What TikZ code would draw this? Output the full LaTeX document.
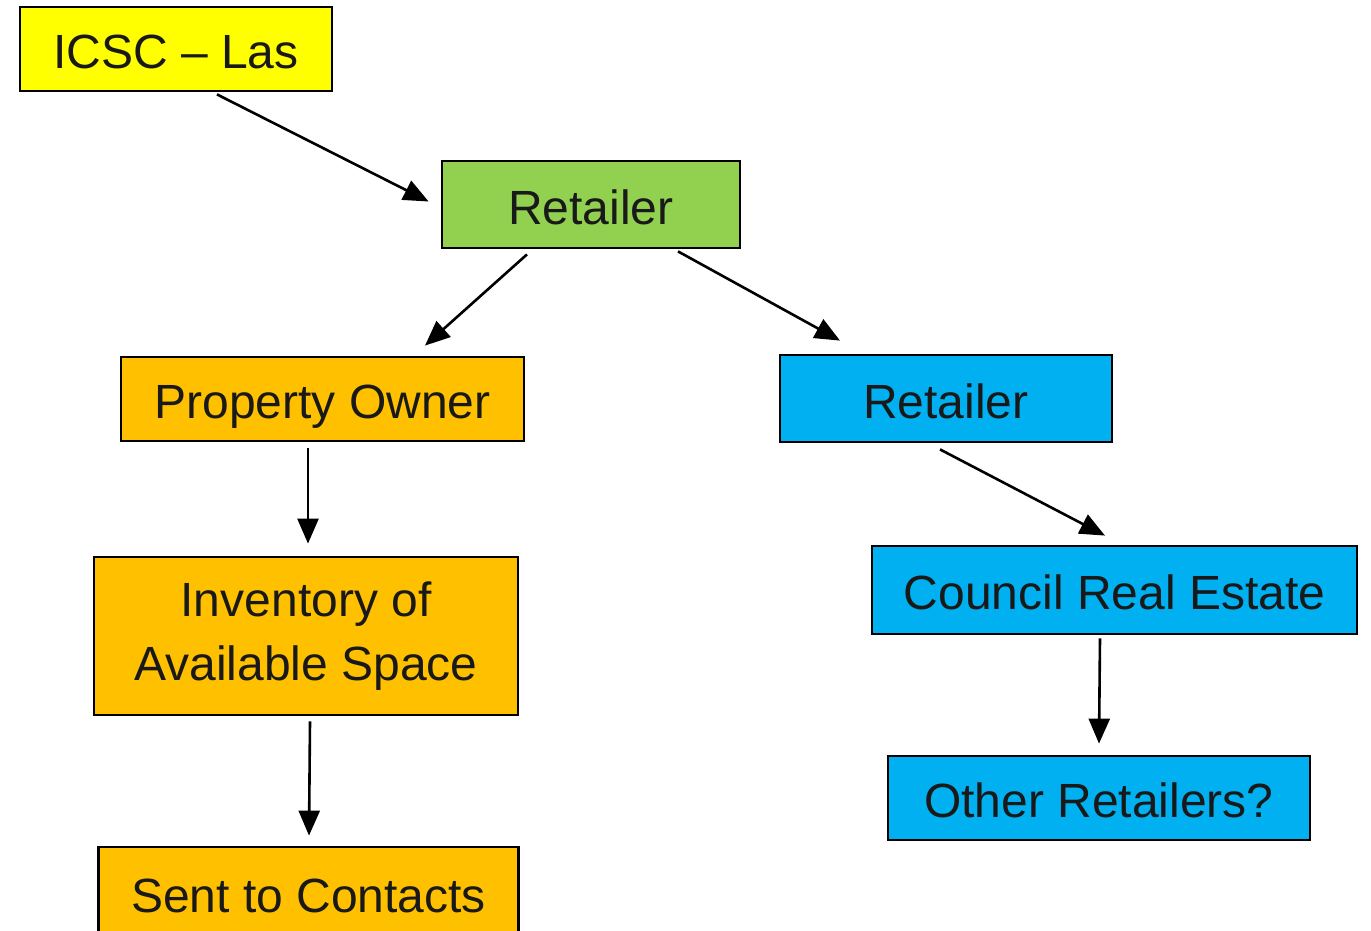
\documentclass[tikz,border=0pt]{standalone}
\usepackage{fontspec}
\setmainfont{Liberation Sans}
\usetikzlibrary{arrows.meta}
\definecolor{cyel}{HTML}{FFFF00}
\definecolor{cgrn}{HTML}{92D050}
\definecolor{corg}{HTML}{FFC000}
\definecolor{cblu}{HTML}{00B0F0}
\tikzset{
  box/.style={draw=black, line width=1.4pt, inner sep=0pt, align=center,
    font=\fontsize{24}{30}\selectfont, text=black!90},
  one/.style={text height=20.6pt, text depth=1pt},
  arr/.style={line width=1.3pt, -{Triangle[length=12.5pt,width=10.5pt]}}
}
\begin{document}
\begin{tikzpicture}[x=0.5pt,y=-0.5pt]
\clip (0,0) rectangle (1371,931);
\fill[white] (0,0) rectangle (1371,931);
\node[box, one, fill=cyel, minimum width=156pt, minimum height=42pt] (icsc) at (176,49) {ICSC -- Las};
\node[box, one, fill=cgrn, minimum width=149pt, minimum height=43.5pt] (ret1) at (591,204.5) {Retailer};
\node[box, one, fill=corg, minimum width=201.5pt, minimum height=42pt] (prop) at (322.5,399) {Property Owner};
\node[box, one, fill=cblu, minimum width=166pt, minimum height=43.5pt] (ret2) at (946,398.5) {Retailer};
\node[box, fill=corg, minimum width=212pt, minimum height=79pt] (inv) at (306,636) {Inventory of\\[2pt]Available Space};
\node[box, one, fill=cblu, minimum width=242.5pt, minimum height=44pt] (coun) at (1114.5,590) {Council Real Estate};
\node[box, one, fill=cblu, minimum width=211pt, minimum height=42pt] (oth) at (1099,798) {Other Retailers?};
\node[box, one, fill=corg, minimum width=210pt, minimum height=46pt] (sent) at (308.5,893) {Sent to Contacts};
\draw[arr] ([shift={(41,2)}]icsc.south) -- ([shift={(-12,-3)}]ret1.west);
\draw[arr] ([shift={(-64,5)}]ret1.south) -- ([shift={(102.5,-10)}]prop.north);
\draw[arr] ([shift={(87,2)}]ret1.south) -- ([shift={(-106,-13)}]ret2.north);
\draw[arr] ([shift={(-14.5,6)}]prop.south) -- ([shift={(2,-12)}]inv.north);
\draw[arr] ([shift={(4,5)}]inv.south) -- ([shift={(0.5,-10)}]sent.north);
\draw[arr] ([shift={(-6,6)}]ret2.south) -- ([shift={(-9.5,-9)}]coun.north);
\draw[arr] ([shift={(-14.5,3)}]coun.south) -- ([shift={(0,-11)}]oth.north);
\end{tikzpicture}
\end{document}
